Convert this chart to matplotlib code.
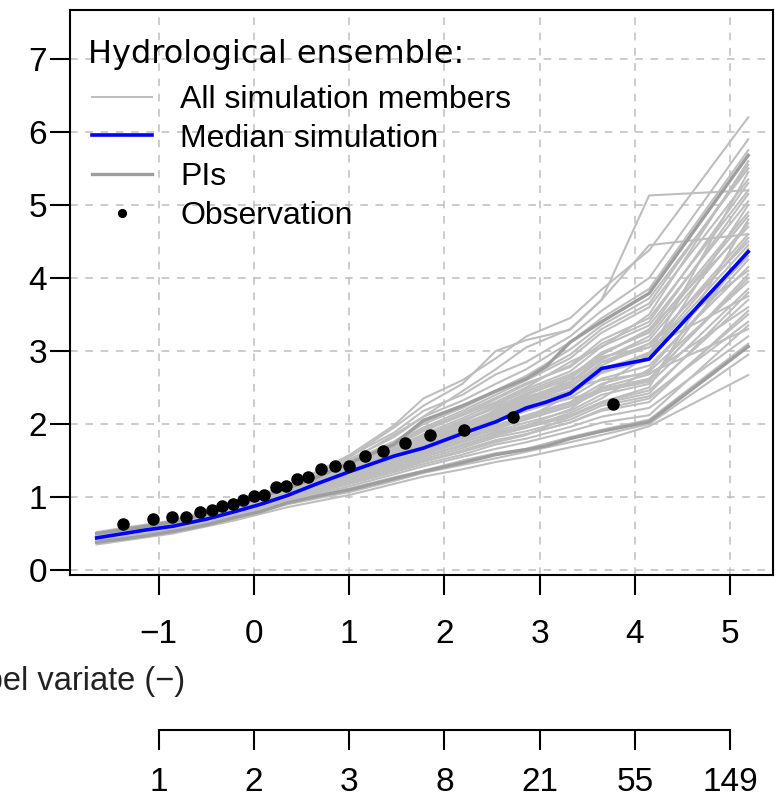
import matplotlib
matplotlib.use("Agg")
import matplotlib.pyplot as plt

plt.rcParams["font.family"] = ["Liberation Sans", "DejaVu Sans"]

# observed annual maxima: Gumbel reduced variate vs value
obs_u = [-1.37, -1.06, -0.86, -0.71, -0.57, -0.44, -0.33, -0.22, -0.11, 0.00,
         0.11, 0.23, 0.34, 0.45, 0.57, 0.71, 0.85, 1.00, 1.17, 1.36,
         1.59, 1.85, 2.21, 2.72, 3.77]
obs_q = [0.63, 0.70, 0.72, 0.72, 0.79, 0.82, 0.88, 0.90, 0.96, 1.01,
         1.03, 1.14, 1.15, 1.24, 1.28, 1.38, 1.42, 1.42, 1.56, 1.63,
         1.74, 1.85, 1.92, 2.09, 2.27]

# median simulation and prediction interval bounds
sim_u = [-1.65, -1.13, -0.85, -0.49, -0.20, 0.07, 0.35, 0.66, 1.01, 1.47,
         1.78, 2.19, 2.54, 2.86, 3.07, 3.32, 3.65, 4.15, 5.19]
median_q = [0.44, 0.55, 0.60, 0.70, 0.80, 0.90, 1.02, 1.18, 1.35, 1.56,
            1.67, 1.87, 2.03, 2.22, 2.30, 2.42, 2.76, 2.89, 4.36]
pi_low = [0.38, 0.47, 0.53, 0.62, 0.72, 0.80, 0.92, 1.01, 1.10, 1.25,
          1.35, 1.47, 1.58, 1.65, 1.70, 1.80, 1.90, 2.03, 3.06]
pi_high = [0.50, 0.60, 0.66, 0.77, 0.88, 1.00, 1.12, 1.27, 1.47, 1.72,
           2.05, 2.25, 2.45, 2.62, 2.79, 3.12, 3.40, 3.79, 5.68]

# ensemble members (values at member_u)
member_u = [-1.65, -0.85, -0.20, 0.35, 1.01, 1.47, 1.78, 2.19, 2.54, 2.86,
            3.32, 3.65, 4.15, 5.19]
members = [
    [0.35, 0.50, 0.68, 0.86, 1.03, 1.18, 1.28, 1.38, 1.48, 1.55, 1.68, 1.77, 1.97, 2.67],
    [0.37, 0.52, 0.70, 0.90, 1.07, 1.22, 1.33, 1.44, 1.53, 1.62, 1.75, 1.85, 2.00, 2.95],
    [0.38, 0.53, 0.72, 0.93, 1.12, 1.27, 1.36, 1.50, 1.60, 1.66, 1.82, 1.92, 2.06, 3.10],
    [0.39, 0.55, 0.74, 0.94, 1.15, 1.31, 1.42, 1.55, 1.66, 1.75, 1.90, 2.02, 2.12, 3.35],
    [0.40, 0.56, 0.75, 0.96, 1.18, 1.34, 1.45, 1.58, 1.72, 1.80, 1.96, 2.10, 2.22, 3.20],
    [0.41, 0.56, 0.76, 0.97, 1.20, 1.38, 1.49, 1.64, 1.78, 1.86, 2.02, 2.18, 2.30, 3.55],
    [0.42, 0.57, 0.77, 0.98, 1.22, 1.40, 1.52, 1.67, 1.82, 1.90, 2.06, 2.25, 2.38, 3.40],
    [0.42, 0.58, 0.78, 0.99, 1.25, 1.43, 1.55, 1.72, 1.86, 1.98, 2.12, 2.30, 2.46, 3.70],
    [0.43, 0.58, 0.79, 1.00, 1.27, 1.45, 1.58, 1.75, 1.90, 2.02, 2.18, 2.40, 2.55, 3.85],
    [0.43, 0.59, 0.79, 1.01, 1.29, 1.48, 1.60, 1.78, 1.95, 2.08, 2.25, 2.48, 2.62, 4.00],
    [0.44, 0.60, 0.80, 1.02, 1.31, 1.50, 1.63, 1.82, 1.98, 2.12, 2.30, 2.55, 2.72, 3.95],
    [0.44, 0.60, 0.81, 1.03, 1.33, 1.53, 1.66, 1.85, 2.02, 2.18, 2.36, 2.62, 2.80, 4.15],
    [0.45, 0.61, 0.81, 1.04, 1.35, 1.55, 1.68, 1.88, 2.06, 2.22, 2.40, 2.70, 2.88, 4.30],
    [0.45, 0.61, 0.82, 1.05, 1.37, 1.58, 1.72, 1.92, 2.10, 2.28, 2.46, 2.76, 2.95, 4.45],
    [0.46, 0.62, 0.83, 1.06, 1.38, 1.60, 1.75, 1.95, 2.14, 2.32, 2.52, 2.84, 3.05, 4.60],
    [0.46, 0.62, 0.84, 1.07, 1.40, 1.62, 1.78, 2.00, 2.18, 2.36, 2.58, 2.90, 3.15, 4.75],
    [0.47, 0.63, 0.84, 1.08, 1.42, 1.64, 1.82, 2.04, 2.22, 2.42, 2.65, 2.98, 3.25, 4.90],
    [0.47, 0.64, 0.85, 1.09, 1.44, 1.67, 1.86, 2.08, 2.28, 2.48, 2.72, 3.06, 3.35, 5.05],
    [0.48, 0.64, 0.86, 1.10, 1.45, 1.70, 1.90, 2.12, 2.34, 2.54, 2.80, 3.15, 3.45, 5.20],
    [0.49, 0.65, 0.87, 1.11, 1.47, 1.72, 1.95, 2.18, 2.40, 2.60, 2.90, 3.25, 3.60, 5.35],
    [0.50, 0.66, 0.88, 1.12, 1.49, 1.76, 2.02, 2.24, 2.46, 2.66, 3.02, 3.35, 3.72, 5.50],
    [0.51, 0.67, 0.90, 1.14, 1.52, 1.82, 2.10, 2.32, 2.55, 2.75, 3.12, 3.45, 3.85, 5.75],
    [0.52, 0.68, 0.92, 1.16, 1.56, 1.88, 2.18, 2.40, 2.68, 2.85, 3.20, 3.55, 4.00, 5.90],
    [0.48, 0.66, 0.90, 1.15, 1.55, 1.95, 2.25, 2.55, 3.00, 3.15, 3.29, 3.70, 5.13, 5.20],
    [0.47, 0.65, 0.88, 1.12, 1.50, 1.85, 2.10, 2.45, 2.75, 3.05, 3.30, 3.70, 4.45, 4.60],
    [0.50, 0.66, 0.89, 1.13, 1.58, 1.98, 2.35, 2.60, 2.90, 3.20, 3.45, 3.84, 4.38, 6.20],
    [0.40, 0.55, 0.78, 1.00, 1.30, 1.40, 1.50, 1.62, 1.75, 1.85, 2.10, 2.30, 2.50, 4.80],
    [0.45, 0.62, 0.80, 1.00, 1.25, 1.52, 1.72, 1.90, 2.20, 2.38, 2.50, 2.60, 2.70, 3.30],
    [0.43, 0.60, 0.83, 1.05, 1.40, 1.62, 1.80, 2.00, 2.12, 2.20, 2.35, 2.45, 2.58, 4.40],
    [0.42, 0.57, 0.77, 1.02, 1.32, 1.52, 1.70, 1.80, 1.92, 2.08, 2.40, 2.85, 3.10, 4.10],
    [0.46, 0.63, 0.85, 1.08, 1.36, 1.56, 1.68, 1.86, 2.00, 2.30, 2.62, 2.70, 2.90, 5.00],
    [0.41, 0.57, 0.80, 1.04, 1.34, 1.50, 1.62, 1.76, 1.88, 1.98, 2.20, 2.52, 2.95, 5.45],
    [0.44, 0.59, 0.81, 1.03, 1.28, 1.46, 1.64, 1.84, 2.08, 2.25, 2.55, 2.95, 3.30, 4.70],
    [0.47, 0.62, 0.82, 1.06, 1.43, 1.68, 1.84, 2.02, 2.26, 2.45, 2.68, 2.92, 3.05, 3.75],
    [0.39, 0.54, 0.74, 0.95, 1.20, 1.36, 1.55, 1.70, 1.85, 1.95, 2.15, 2.35, 2.75, 4.25],
    [0.48, 0.65, 0.86, 1.10, 1.46, 1.74, 1.95, 2.12, 2.30, 2.50, 2.85, 3.05, 3.50, 5.60],
    [0.44, 0.60, 0.82, 1.05, 1.36, 1.57, 1.74, 1.94, 2.13, 2.30, 2.50, 2.80, 3.10, 4.50],
    [0.43, 0.59, 0.80, 1.02, 1.30, 1.49, 1.62, 1.80, 1.96, 2.10, 2.28, 2.50, 2.68, 3.60],
    [0.46, 0.63, 0.84, 1.08, 1.41, 1.65, 1.83, 2.05, 2.24, 2.40, 2.62, 2.95, 3.28, 5.15],
    [0.41, 0.57, 0.77, 0.99, 1.24, 1.42, 1.56, 1.70, 1.84, 1.95, 2.10, 2.28, 2.42, 3.80],
    [0.45, 0.61, 0.83, 1.06, 1.39, 1.61, 1.77, 1.97, 2.16, 2.34, 2.56, 2.88, 3.20, 4.85],
    [0.42, 0.58, 0.79, 1.01, 1.28, 1.47, 1.61, 1.78, 1.94, 2.06, 2.24, 2.45, 2.60, 4.05],
    [0.47, 0.64, 0.86, 1.10, 1.45, 1.70, 1.92, 2.15, 2.36, 2.56, 2.78, 3.10, 3.40, 5.30],
    [0.40, 0.55, 0.75, 0.97, 1.21, 1.36, 1.48, 1.62, 1.76, 1.86, 2.02, 2.20, 2.35, 3.50],
    [0.48, 0.65, 0.87, 1.11, 1.48, 1.75, 2.00, 2.22, 2.44, 2.62, 2.95, 3.30, 3.65, 5.55],
    [0.44, 0.60, 0.81, 1.04, 1.34, 1.54, 1.70, 1.90, 2.08, 2.24, 2.44, 2.72, 2.98, 4.55],
]

gumbel_ticks = [-1, 0, 1, 2, 3, 4, 5]
return_periods = ["1", "2", "3", "8", "21", "55", "149"]

W, H = 776, 802
fig = plt.figure(figsize=(W / 100, H / 100), dpi=100)
ax = fig.add_axes([70 / W, 1 - 575 / H, (773 - 70) / W, (575 - 10) / H])

for i, m in enumerate(members):
    ax.plot(member_u, m, color="#BEBEBE", lw=1.5, zorder=2,
            label="All simulation members" if i == 0 else None)
ax.plot(sim_u, pi_low, color="#9E9E9E", lw=2.4, zorder=3)
ax.plot(sim_u, pi_high, color="#9E9E9E", lw=2.4, zorder=3, label="PIs")
ax.plot(sim_u, median_q, color="#0000FF", lw=2.6, zorder=4, label="Median simulation")
ax.plot(obs_u, obs_q, "o", color="black", ms=8, zorder=5, label="Observation")

ax.set_xlim(-1.93, 5.45)
ax.set_ylim(-0.068, 7.67)
ax.set_xticks(gumbel_ticks)
ax.set_yticks(range(0, 8))
ax.grid(True, color="#BEBEBE", ls=(0, (5, 5)), lw=1.1, zorder=0)
ax.set_axisbelow(True)
for s in ax.spines.values():
    s.set_linewidth(1.5)
ax.tick_params(axis="x", length=14.4, width=1.5, labelsize=24, pad=17)
ax.tick_params(axis="y", length=14.4, width=1.5, labelsize=24, pad=2)

# return period axis below
sec = ax.secondary_xaxis(-(730 - 575) / 565)
sec.set_xticks(gumbel_ticks, labels=return_periods)
sec.spines["bottom"].set_bounds(-1, 5)
sec.spines["bottom"].set_linewidth(1.5)
sec.tick_params(length=14.4, width=1.5, labelsize=24, pad=12)

fig.text(185 / W, 1 - 690 / H, "Gumbel variate (\u2212)", ha="right", va="baseline",
         fontsize=23.5, color="#222222")

# legend: title drawn separately so the gap matches
fig.text(88 / W, 1 - 63 / H, "Hydrological ensemble:", ha="left", va="baseline",
         fontsize=23, family="DejaVu Sans")
h, l = ax.get_legend_handles_labels()
order = ["All simulation members", "Median simulation", "PIs", "Observation"]
hs = [h[l.index(o)] for o in order]
leg = ax.legend(hs, order, loc="upper left",
                bbox_to_anchor=(92 / W, 1 - 85 / H), bbox_transform=fig.transFigure,
                frameon=False, fontsize=23, handlelength=1.88, handletextpad=0.88,
                labelspacing=0.27, borderpad=0, borderaxespad=0, markerscale=0.7)

fig.savefig("out.png", dpi=100)
